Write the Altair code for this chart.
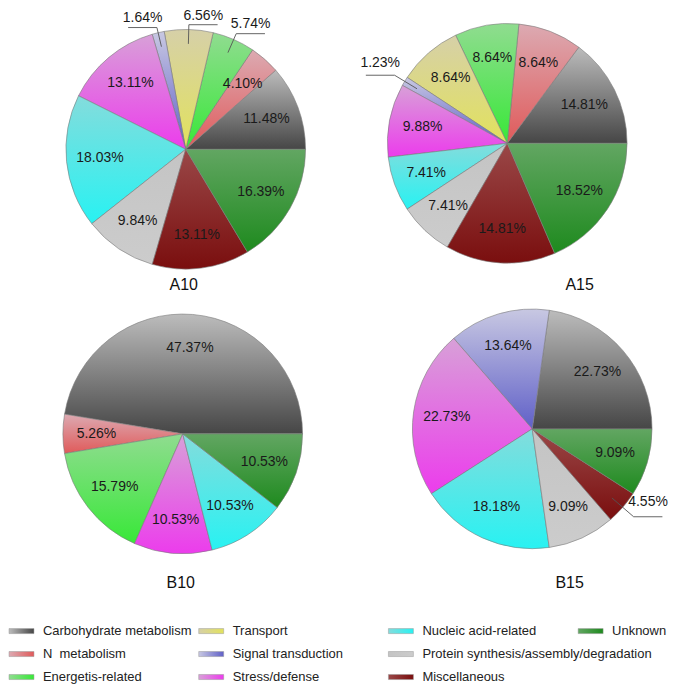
import math
import altair as alt
import pandas as pd

FONT = "Liberation Sans, Arial, sans-serif"

categories = ["Carbohydrate metabolism", "N\u00a0 metabolism", "Energetis-related", "Transport",
              "Signal transduction", "Stress/defense", "Nucleic acid-related",
              "Protein synthesis/assembly/degradation", "Miscellaneous", "Unknown"]

# percentages per sample, in the category order above
A10 = [11.48, 4.10, 5.74, 6.56, 1.64, 13.11, 18.03, 9.84, 13.11, 16.39]
A15 = [14.81, 8.64, 8.64, 8.64, 1.23, 9.88, 7.41, 7.41, 14.81, 18.52]
B10 = [47.37, 5.26, 15.79, 0, 0, 10.53, 10.53, 0, 0, 10.53]
B15 = [22.73, 0, 0, 0, 13.64, 22.73, 18.18, 9.09, 4.55, 9.09]

# slices whose labels sit outside the pie with a leader line
outside_labels = {
    "A10": ["Signal transduction", "Transport", "Energetis-related"],
    "A15": ["Signal transduction"],
    "B10": [],
    "B15": ["Miscellaneous"],
}

grad_top = ["#bcbcbc", "#dcaab2", "#90dc90", "#d6d0a8", "#c8c8e2",
            "#d8a0d8", "#84dcdc", "#c4c4c4", "#9a4848", "#62a662"]
grad_bottom = ["#464646", "#e05a5a", "#38e838", "#e2e25c", "#6060c8",
               "#ec3cec", "#28f2f2", "#cccccc", "#7a0e0e", "#1e8a1e"]

R = 120.0  # pie radius in px


def gradient(i, vertical=True):
    stops = [alt.GradientStop(color=grad_top[i], offset=0),
             alt.GradientStop(color=grad_bottom[i], offset=1)]
    if vertical:
        return alt.LinearGradient(gradient="linear", stops=stops, x1=0, x2=0, y1=0, y2=1)
    return alt.LinearGradient(gradient="linear", stops=stops, x1=0, x2=1, y1=0, y2=0)


def pie_frame(name, vals):
    rows = []
    cum = 0.0
    # drawn clockwise from 3 o'clock, so the list is walked backwards
    for i in reversed(range(len(categories))):
        v = vals[i]
        if v <= 0:
            continue
        rows.append(dict(cat=categories[i], idx=i, value=v, start=cum, end=cum + v,
                         mid=cum + v / 2, label=f"{v:.2f}%",
                         outside=categories[i] in outside_labels[name]))
        cum += v
    return pd.DataFrame(rows), cum


def leader_frames(df, total):
    pts, txt = [], []
    for _, r in df[df.outside].iterrows():
        t = math.pi / 2 + 2 * math.pi * r["mid"] / total
        ux, uy = math.sin(t), math.cos(t)
        up = max(0.0, uy)
        f = 1.12 - 0.08 * up * up
        p0 = (0.88 * ux, 0.88 * uy)
        p1 = (f * ux, f * uy)
        side = 1 if ux >= 0 else -1
        p2 = (p1[0] + side * 0.24, p1[1])
        for k, p in enumerate([p0, p1, p2]):
            pts.append(dict(cat=r["cat"], k=k, lx=p[0], ly=p[1]))
        txt.append(dict(label=r["label"], tx=(p1[0] + p2[0]) / 2,
                        ty=p1[1] + 0.075 + 0.05 * (1 - up)))
    return pd.DataFrame(pts), pd.DataFrame(txt)


def pie_panel(name, vals, width, height, cx, cy, title_dx):
    df, total = pie_frame(name, vals)
    xs = alt.Scale(domain=[-cx / R, (width - cx) / R], nice=False, zero=False)
    ys = alt.Scale(domain=[-(height - cy) / R, cy / R], nice=False, zero=False)
    ts = alt.Scale(domain=[0, total], range=[math.pi / 2, math.pi / 2 + 2 * math.pi])
    cxd = alt.XDatum(0, type="quantitative", scale=xs, axis=None)
    cyd = alt.YDatum(0, type="quantitative", scale=ys, axis=None)
    base = alt.Chart(df)
    layers = []
    for i, c in enumerate(categories):
        if c not in set(df["cat"]):
            continue
        layers.append(
            base.transform_filter(alt.datum.cat == c)
            .mark_arc(fill=gradient(i), stroke="#7a7a7a", strokeWidth=0.6, radius=R)
            .encode(x=cxd, y=cyd,
                    theta=alt.Theta("start:Q", scale=ts),
                    theta2=alt.Theta2("end:Q"))
        )
    layers.append(
        base.transform_filter("!datum.outside")
        .mark_text(radius=0.72 * R, font=FONT, fontSize=14, color="#1a1a1a")
        .encode(x=cxd, y=cyd, theta=alt.Theta("mid:Q", scale=ts), text="label:N")
    )
    pts, txt = leader_frames(df, total)
    if len(pts):
        layers.append(
            alt.Chart(pts).mark_line(stroke="#555555", strokeWidth=0.9)
            .encode(x=alt.X("lx:Q", scale=xs, axis=None),
                    y=alt.Y("ly:Q", scale=ys, axis=None),
                    detail="cat:N", order="k:Q")
        )
        layers.append(
            alt.Chart(txt).mark_text(font=FONT, fontSize=14, color="#1a1a1a", baseline="middle")
            .encode(x=alt.X("tx:Q", scale=xs, axis=None),
                    y=alt.Y("ty:Q", scale=ys, axis=None),
                    text="label:N")
        )
    return alt.layer(*layers).properties(
        width=width, height=height,
        title=alt.TitleParams(name, orient="bottom", dx=title_dx, offset=1, fontSize=16,
                              font=FONT, fontWeight="normal", color="#111111"),
    )


pA10 = pie_panel("A10", A10, 330, 262, 177, 135, 10)
pA15 = pie_panel("A15", A15, 339, 262, 169, 129, 72)
pB10 = pie_panel("B10", B10, 330, 275, 174, 135, 7)
pB15 = pie_panel("B15", B15, 339, 275, 194, 130, 62)

# legend: 3 rows per column, columns filled top to bottom
LW = 669
COLW = 190.0
leg = pd.DataFrame({"cat": categories, "idx": list(range(len(categories)))})
lx = alt.Scale(domain=[0, LW / COLW], nice=False, zero=False)
ly = alt.Scale(domain=[2.5, -0.5], nice=False, zero=False)
lbase = alt.Chart(leg).transform_calculate(
    col="floor(datum.idx / 3)", row="datum.idx % 3"
).transform_calculate(
    col2=f"datum.col + {25 / COLW}", r0="datum.row - 0.11", r1="datum.row + 0.11"
)
leg_layers = []
for i, c in enumerate(categories):
    leg_layers.append(
        lbase.transform_filter(alt.datum.cat == c)
        .mark_rect(fill=gradient(i, vertical=False), stroke="#9a9a9a", strokeWidth=0.5)
        .encode(x=alt.X("col:Q", scale=lx, axis=None), x2="col2:Q",
                y=alt.Y("r0:Q", scale=ly, axis=None), y2="r1:Q")
    )
leg_layers.append(
    lbase.mark_text(align="left", baseline="middle", dx=34, font=FONT, fontSize=13, color="#222222")
    .encode(x=alt.X("col:Q", scale=lx, axis=None),
            y=alt.Y("row:Q", scale=ly, axis=None),
            text="cat:N")
)
legend = alt.layer(*leg_layers).properties(width=LW, height=69)

row1 = alt.hconcat(pA10, pA15, spacing=0)
row2 = alt.hconcat(pB10, pB15, spacing=0)
chart = alt.vconcat(alt.vconcat(row1, row2, spacing=6), legend, spacing=29).properties(
    padding=0
).configure_view(stroke=None)

chart.save("out.html", embed_options={"renderer": "svg", "actions": False})
